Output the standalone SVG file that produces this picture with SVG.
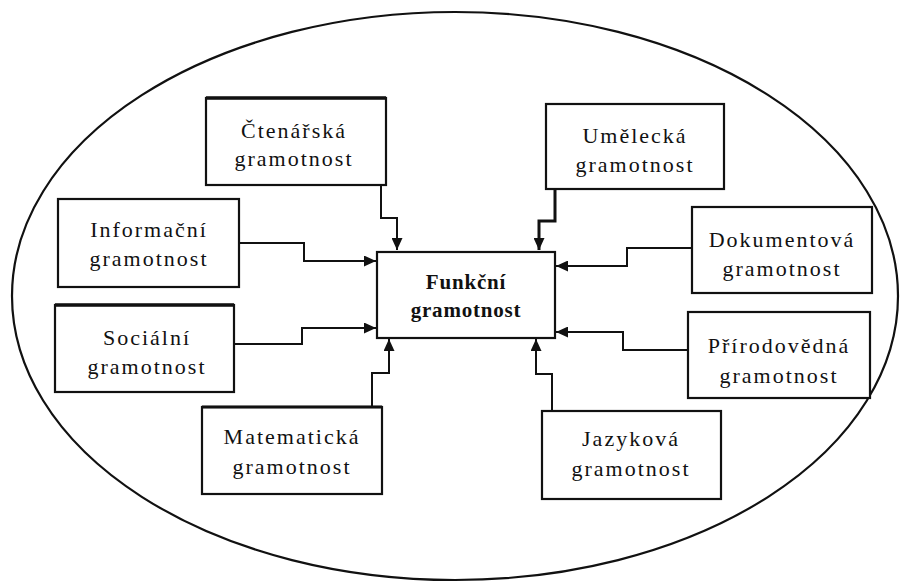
<svg xmlns="http://www.w3.org/2000/svg" width="908" height="585" viewBox="0 0 908 585">
<style>
.box{fill:#fff;stroke:#111;stroke-width:2.2}
.t{font-family:"Liberation Serif","DejaVu Serif",serif;font-size:22px;letter-spacing:2px;fill:#111;text-anchor:middle}
.b{font-size:21px;font-weight:bold;letter-spacing:0.8px}
.c{fill:none;stroke:#111;stroke-width:2}
.ct{stroke-width:3}
</style>
<defs>
<marker id="ah" markerUnits="userSpaceOnUse" markerWidth="12" markerHeight="11" refX="12" refY="5.5" orient="auto">
<path d="M0,0 L12,5.5 L0,11 z" fill="#111"/>
</marker>
</defs>
<ellipse cx="455" cy="296" rx="443" ry="284" fill="none" stroke="#111" stroke-width="2.2"/>
<g id="connectors">
<path class="c" d="M381,185 V218 H397 V250" marker-end="url(#ah)"/>
<path class="c" d="M239,243 H304 V261 H376" marker-end="url(#ah)"/>
<path class="c" d="M234,344 H302 V328 H376" marker-end="url(#ah)"/>
<path class="c" d="M372,407 V373 H389 V339" marker-end="url(#ah)"/>
<path class="c ct" d="M555,189 V221 H539 V250" marker-end="url(#ah)"/>
<path class="c" d="M692,248 H627 V266 H556" marker-end="url(#ah)"/>
<path class="c" d="M688,350 H623 V332 H556" marker-end="url(#ah)"/>
<path class="c" d="M552,411 V374 H536 V339" marker-end="url(#ah)"/>
</g>
<g id="funkcni">
<rect class="box" x="377" y="252" width="178" height="86"/>
<text class="t b" x="466" y="289">Funkční</text>
<text class="t b" x="466" y="317">gramotnost</text>
</g>
<g id="ctenarska">
<rect class="box" x="206" y="98" width="180" height="87"/>
<line x1="206" y1="98" x2="386" y2="98" stroke="#111" stroke-width="3.5"/>
<text class="t" x="294" y="138">Čtenářská</text>
<text class="t" x="294" y="166">gramotnost</text>
</g>
<g id="informacni">
<rect class="box" x="58" y="199" width="181" height="88"/>
<text class="t" x="149" y="237">Informační</text>
<text class="t" x="149" y="266">gramotnost</text>
</g>
<g id="socialni">
<rect class="box" x="55" y="305" width="179" height="87"/>
<line x1="55" y1="305" x2="234" y2="305" stroke="#111" stroke-width="3.5"/>
<text class="t" x="147" y="345">Sociální</text>
<text class="t" x="147" y="374">gramotnost</text>
</g>
<g id="matematicka">
<rect class="box" x="202" y="407" width="180" height="87"/>
<line x1="202" y1="407" x2="382" y2="407" stroke="#111" stroke-width="3"/>
<text class="t" x="292" y="444">Matematická</text>
<text class="t" x="292" y="474">gramotnost</text>
</g>
<g id="umelecka">
<rect class="box" x="546" y="104" width="178" height="85"/>
<text class="t" x="635" y="143">Umělecká</text>
<text class="t" x="635" y="172">gramotnost</text>
</g>
<g id="dokumentova">
<rect class="box" x="692" y="207" width="180" height="86"/>
<text class="t" x="782" y="247">Dokumentová</text>
<text class="t" x="782" y="276">gramotnost</text>
</g>
<g id="prirodovedna">
<rect class="box" x="688" y="312" width="182" height="86"/>
<text class="t" x="779" y="353">Přírodovědná</text>
<text class="t" x="779" y="383">gramotnost</text>
</g>
<g id="jazykova">
<rect class="box" x="542" y="411" width="179" height="88"/>
<text class="t" x="631" y="446">Jazyková</text>
<text class="t" x="631" y="476">gramotnost</text>
</g>
</svg>
